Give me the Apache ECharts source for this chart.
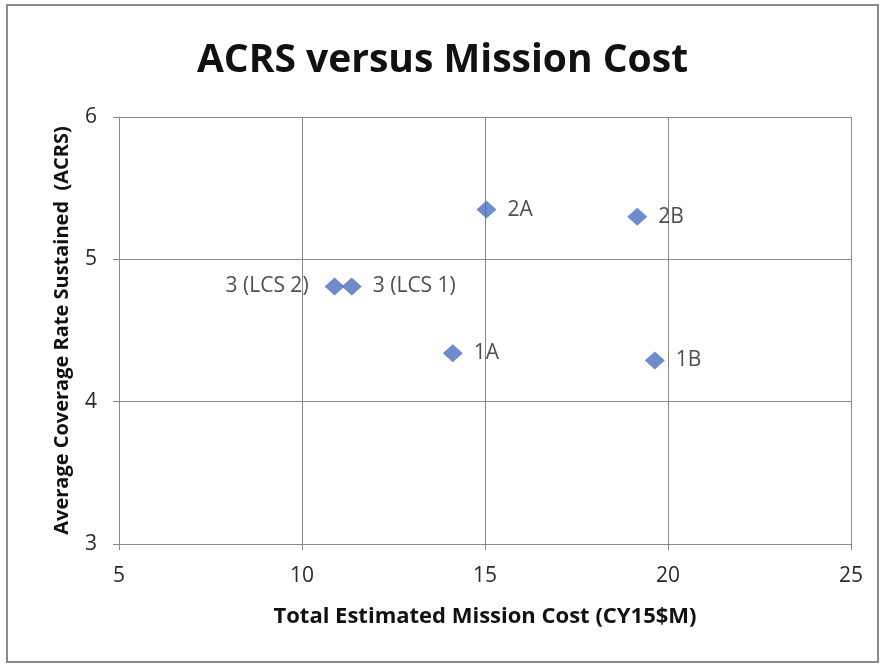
<!DOCTYPE html>
<html>
<head>
<meta charset="utf-8">
<script src="https://cdn.jsdelivr.net/npm/echarts@6/dist/echarts.min.js"></script>
<style>
  html, body { margin: 0; padding: 0; background: #fff; }
  #chart { width: 885px; height: 666px; }
</style>
</head>
<body>
<div id="chart"></div>
<script>
// values
const names = ['2A', '2B', '3 (LCS 2)', '3 (LCS 1)', '1A', '1B'];
const cost = [15.04, 19.16, 10.89, 11.36, 14.12, 19.64];   // CY15$M
const acrs = [5.35, 5.30, 4.81, 4.81, 4.34, 4.29];
const labelSide = ['right', 'right', 'left', 'right', 'right', 'right'];

const xTicks = [5, 10, 15, 20, 25];
const yTicks = [3, 4, 5, 6];

const font = '"Open Sans", "Noto Sans", sans-serif';

let points = names.map((n, i) => ({
    name: n,
    value: [cost[i], acrs[i]],
    label: { position: labelSide[i], distance: labelSide[i] == 'left' ? 16 : 11 }
}));

let myChart = echarts.init(document.getElementById('chart'));

const option = {
    animation: false,
    title: {
        text: 'ACRS versus Mission Cost',
        left: 'center',
        top: 36,
        textStyle: { fontFamily: font, fontSize: 39, fontWeight: 'bold', color: '#111' }
    },
    graphic: [{
        type: 'rect',
        shape: { x: 7, y: 5, width: 871, height: 657 },
        style: { fill: 'none', stroke: '#8a8a8a', lineWidth: 2 },
        silent: true
    }],
    grid: { left: 119, right: 34, top: 117, bottom: 122 },
    xAxis: {
        type: 'value',
        min: xTicks[0],
        max: xTicks[xTicks.length - 1],
        interval: 5,
        name: 'Total Estimated Mission Cost (CY15$M)',
        nameLocation: 'middle',
        nameGap: 62,
        nameTextStyle: { fontFamily: font, fontSize: 22, fontWeight: 'bold', color: '#111' },
        axisLine: { show: true, lineStyle: { color: '#888' } },
        axisTick: { show: true, length: 6, lineStyle: { color: '#888' } },
        axisLabel: { fontFamily: font, fontSize: 21, color: '#2a2a2a', margin: 22 },
        splitLine: { show: true, lineStyle: { color: '#888', width: 1 } }
    },
    yAxis: {
        type: 'value',
        min: yTicks[0],
        max: yTicks[yTicks.length - 1],
        interval: 1,
        name: 'Average Coverage Rate Sustained  (ACRS)',
        nameLocation: 'middle',
        nameRotate: 90,
        nameGap: 47,
        nameTextStyle: { fontFamily: font, fontSize: 20, fontWeight: 'bold', color: '#111' },
        axisLine: { show: true, lineStyle: { color: '#888' } },
        axisTick: { show: true, length: 6, lineStyle: { color: '#888' } },
        axisLabel: { fontFamily: font, fontSize: 21, color: '#2a2a2a', margin: 22 },
        splitLine: { show: true, lineStyle: { color: '#888', width: 1 } }
    },
    series: [{
        type: 'scatter',
        symbol: 'diamond',
        symbolSize: [20, 18],
        itemStyle: { color: '#4A6EBF' },
        label: {
            show: true,
            formatter: '{b}',
            fontFamily: font,
            fontSize: 21,
            color: '#222'
        },
        data: points
    }]
};

myChart.setOption(option);
</script>
</body>
</html>
